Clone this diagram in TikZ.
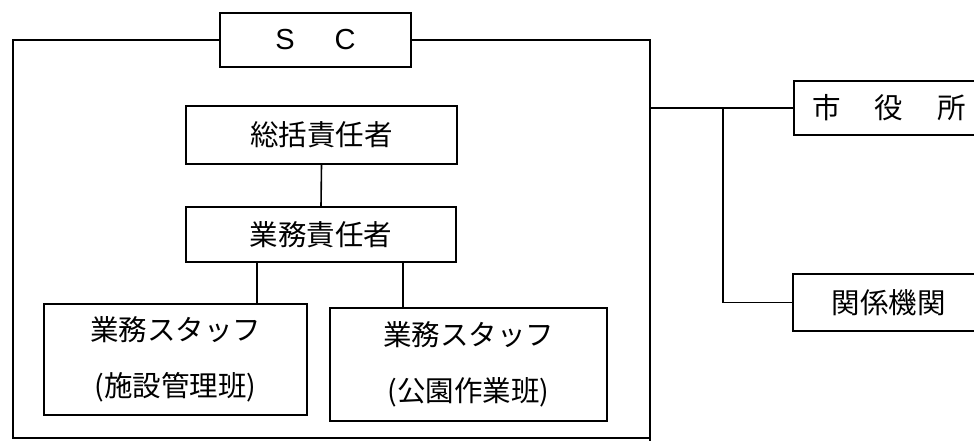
\documentclass[tikz,border=0pt]{standalone}
\usepackage{fontspec}
\setmainfont{Liberation Sans}
\newfontfamily\jp{Noto Sans CJK JP}
\begin{document}
\begin{tikzpicture}[x=1pt,y=-1pt,line width=1.6pt,
  box/.style={draw,rectangle,inner sep=0pt,align=center,
    font=\jp\fontsize{28.5}{56}\selectfont},
  link/.style={draw,line width=1.6pt}]
\useasboundingbox (0,0) rectangle (974,441);
\clip (0,0) rectangle (974,441);
% nodes
\node[box,minimum width=191pt,minimum height=54pt,
  font=\fontsize{29}{29}\selectfont] (sc) at (315.5,40) {S\hspace{40pt}C};
\node[box,minimum width=271pt,minimum height=58pt] (sokatsu) at (321.5,135) {総括責任者};
\node[box,minimum width=270pt,minimum height=55pt] (gyomu) at (321,234.5) {業務責任者};
\node[box,minimum width=263pt,minimum height=111pt] (staff1) at (175.5,359.5) {業務スタッフ\\(施設管理班)};
\node[box,minimum width=277pt,minimum height=113pt] (staff2) at (468.5,364.5) {業務スタッフ\\(公園作業班)};
\node[box,minimum width=190pt,minimum height=54pt] (city) at (889,108) {市\hspace{1.2em}役\hspace{1.2em}所};
\node[box,minimum width=191pt,minimum height=57pt] (kankei) at (888.5,302.5) {関係機関};
% frame
\coordinate (tl) at (13,40);
\coordinate (bl) at (13,438);
\coordinate (br) at (650,438);
\coordinate (brx) at (650,445);
\coordinate (tr) at (650,40);
\draw[link] (sc.west) -- (tl) -- (bl) -- (br);
\draw[link] (sc.east) -- (tr) -- (brx);
% connectors
\coordinate (g1) at (257,0);
\coordinate (g2) at (403,0);
\draw[link] (sokatsu.south) -- (gyomu.north);
\draw[link] (gyomu.south -| g1) -- (staff1.north -| g1);
\draw[link] (gyomu.south -| g2) -- (staff2.north -| g2);
\coordinate (fr) at (650,108);
\coordinate (jn) at (723,108);
\draw[link] (fr) -- (city.west);
\draw[link] (jn) |- (kankei.west);
\end{tikzpicture}
\end{document}
